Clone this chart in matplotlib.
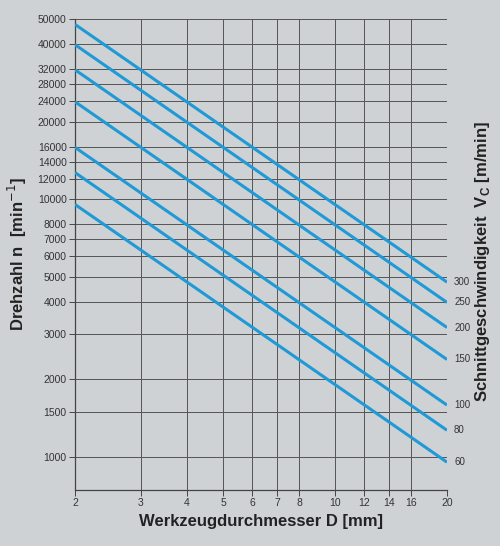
import matplotlib as mpl

mpl.use("Agg")

import matplotlib.pyplot as plt
from matplotlib.ticker import FixedLocator, NullLocator

# cutting speeds and spindle speed at D=2 mm and D=20 mm
vc_labels = ["300", "250", "200", "150", "100", "80", "60"]
diam_ends = [2, 20]
n_at_2 = [47700, 39800, 31800, 23900, 15900, 12700, 9550]
n_at_20 = [4770, 3980, 3180, 2390, 1590, 1270, 955]

x_ticks = [2, 3, 4, 5, 6, 7, 8, 10, 12, 14, 16, 20]
y_ticks = [1000, 1500, 2000, 3000, 4000, 5000, 6000, 7000, 8000, 10000, 12000,
           14000, 16000, 20000, 24000, 28000, 32000, 40000, 50000]

plt.rcParams["font.family"] = ["Liberation Sans", "DejaVu Sans"]
bg = "#cfd2d4"
line_col = "#1f9ad6"

fig = plt.figure(figsize=(5.0, 5.46), dpi=100, facecolor=bg)
ax = fig.add_axes([0.15, 0.1026, 0.744, 0.8624], facecolor=bg)
ax.set_xscale("log")
ax.set_yscale("log")
ax.set_xlim(2, 20)
ax.set_ylim(745, 50000)

for a, b, lab in zip(n_at_2, n_at_20, vc_labels):
    ax.plot(diam_ends, [a, b], color=line_col, lw=2.2, solid_capstyle="butt", zorder=3)
    ax.text(20.9, b, lab, fontsize=7, color="#333333", va="center", ha="left")

ax.xaxis.set_major_locator(FixedLocator(x_ticks))
ax.xaxis.set_minor_locator(NullLocator())
ax.set_xticklabels([str(t) for t in x_ticks], fontsize=7.5, color="#333333")
ax.yaxis.set_major_locator(FixedLocator(y_ticks))
ax.yaxis.set_minor_locator(NullLocator())
ax.set_yticklabels([str(t) for t in y_ticks], fontsize=7.5, color="#333333")
ax.grid(True, color="#555555", lw=0.7)
ax.tick_params(length=4, width=0.7, color="#444444", pad=2)
for side in ["top", "right"]:
    ax.spines[side].set_visible(False)
for side in ["left", "bottom"]:
    ax.spines[side].set_linewidth(0.9)
    ax.spines[side].set_color("#444444")

ax.set_xlabel("Werkzeugdurchmesser D [mm]", fontsize=12, fontweight="bold", color="#222222")
ax.set_ylabel("Drehzahl n  [min$^{-1}$]", fontsize=12, fontweight="bold", color="#222222", labelpad=6)
fig.text(0.965, 0.52, "Schnittgeschwindigkeit  V$_\\mathregular{C}$ [m/min]", rotation=90,
         fontsize=12, fontweight="bold", color="#222222", ha="center", va="center")

fig.savefig("out.png", dpi=100, facecolor=bg)
